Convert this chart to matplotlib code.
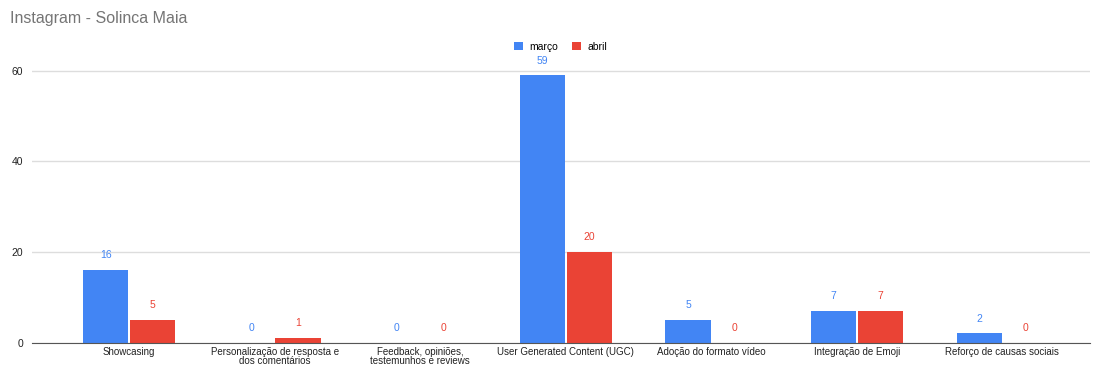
import numpy as np
import matplotlib
matplotlib.use('Agg')
import matplotlib.pyplot as plt

# dados
categorias = ['Showcasing', 'Personalização de resposta e\ndos comentários',
              'Feedback, opiniões,\ntestemunhos e reviews', 'User Generated Content (UGC)',
              'Adoção do formato vídeo', 'Integração de Emoji', 'Reforço de causas sociais']
marco = [16, 0, 0, 59, 5, 7, 2]
abril = [5, 1, 0, 20, 0, 7, 0]
series = ['março', 'abril']
cores = ['#4285F4', '#EA4335']

plt.rcParams['font.family'] = ['Liberation Sans', 'DejaVu Sans']

fig = plt.figure(figsize=(10.93, 3.65), dpi=100)
ax = fig.add_axes([0.029, 0.0616, 0.968, 0.806])

x = np.arange(len(categorias))
w = 0.31
b1 = ax.bar(x - w / 2 - 0.005, marco, w, color=cores[0], label=series[0], zorder=3)
b2 = ax.bar(x + w / 2 + 0.005, abril, w, color=cores[1], label=series[1], zorder=3)

for bars, vals, c in [(b1, marco, cores[0]), (b2, abril, cores[1])]:
    for r, v in zip(bars, vals):
        ax.annotate(str(v), (r.get_x() + r.get_width() / 2, v), xytext=(0, 7),
                    textcoords='offset points', ha='center', va='bottom',
                    fontsize=7.5, color=c)

ax.set_xlim(-0.67, 6.6)
ax.set_ylim(0, 65)
ax.set_yticks([0, 20, 40, 60])
ax.set_xticks(x)
ax.set_xticklabels(categorias, fontsize=7, color='#222222', linespacing=0.95)
ax.tick_params(axis='x', length=0, pad=3)
ax.tick_params(axis='y', length=0, labelsize=7.5, labelcolor='#222222', pad=6)
ax.grid(axis='y', color='#dddddd', linewidth=1, zorder=0)
for s in ['top', 'right', 'left']:
    ax.spines[s].set_visible(False)
ax.spines['bottom'].set_color('#555555')
ax.spines['bottom'].set_zorder(4)

fig.text(0.009, 0.95, 'Instagram - Solinca Maia', fontsize=11.5, color='#757575',
         ha='left', va='center')
fig.legend(loc='center', bbox_to_anchor=(0.513, 0.872), ncol=2, frameon=False,
           fontsize=7.5, handlelength=0.9, handleheight=0.9, handletextpad=0.6,
           columnspacing=1.3)

fig.savefig('out.png', dpi=100)
